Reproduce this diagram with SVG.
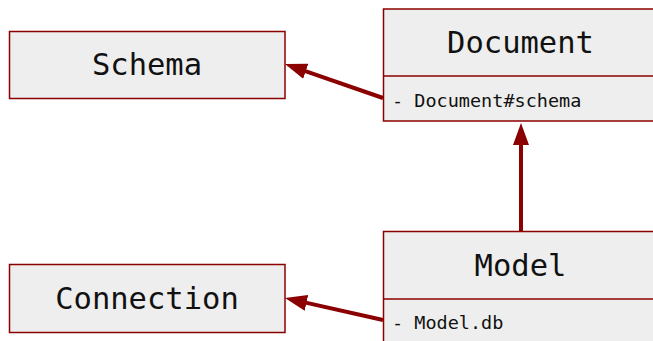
<svg xmlns="http://www.w3.org/2000/svg" width="653" height="341" viewBox="0 0 653 341">
<style>
.box{fill:#eeeeee;stroke:#8b0000;stroke-width:1.5}
.div{stroke:#8b0000;stroke-width:1.5}
.title{font-family:"DejaVu Sans Mono","Liberation Mono",monospace;font-size:30.5px;fill:#111;text-anchor:middle}
.attr{font-family:"DejaVu Sans Mono","Liberation Mono",monospace;font-size:18.5px;fill:#111}
.edge{stroke:#8b0000;stroke-width:4;fill:none;marker-end:url(#arr)}
</style>
<defs>
<marker id="arr" viewBox="0 0 22 16" refX="2" refY="8" markerWidth="22" markerHeight="16" markerUnits="userSpaceOnUse" orient="auto">
<path d="M0,0 L22,8 L0,16 z" fill="#8b0000"/>
</marker>
</defs>
<g id="schema">
<rect class="box" x="9.5" y="31.5" width="275.5" height="67"/>
<text class="title" x="147" y="75">Schema</text>
</g>
<g id="connection">
<rect class="box" x="9.5" y="264.5" width="275.5" height="68"/>
<text class="title" x="147" y="309">Connection</text>
</g>
<g id="document">
<rect class="box" x="383.5" y="9" width="280" height="112"/>
<line class="div" x1="383.5" y1="76" x2="663" y2="76"/>
<text class="title" x="520.5" y="53">Document</text>
<text class="attr" x="392" y="107">- Document#schema</text>
</g>
<g id="model">
<rect class="box" x="383.5" y="231.5" width="280" height="120"/>
<line class="div" x1="383.5" y1="299" x2="663" y2="299"/>
<text class="title" x="520.5" y="276">Model</text>
<text class="attr" x="392" y="329">- Model.db</text>
</g>
<g id="connectors">
<line class="edge" x1="383" y1="98" x2="303.9" y2="70.6"/>
<line class="edge" x1="383" y1="320" x2="304.5" y2="302.4"/>
<line class="edge" x1="521" y1="231" x2="521" y2="143"/>
</g>
</svg>
